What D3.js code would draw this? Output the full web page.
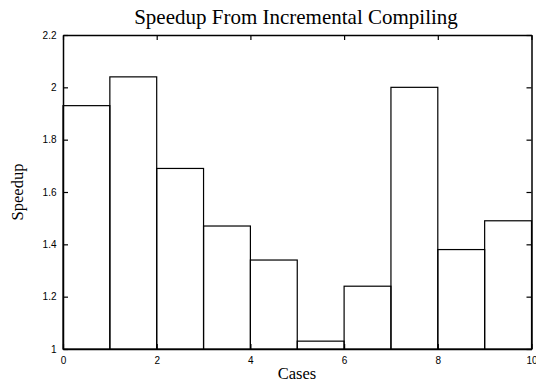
<!DOCTYPE html>
<html>
<head>
<meta charset="utf-8">
<script src="https://cdn.jsdelivr.net/npm/d3@7"></script>
<style>
  body { margin: 0; background: #fff; }
  svg { display: block; }
</style>
</head>
<body>
<div id="graph"></div>
<script>
// one bar per case, case i spans [i, i+1]
var cases = [0, 1, 2, 3, 4, 5, 6, 7, 8, 9];
var speedup = [1.93, 2.04, 1.69, 1.47, 1.34, 1.03, 1.24, 2.00, 1.38, 1.49];
var xTicks = [0, 2, 4, 6, 8, 10];
var yTicks = [1, 1.2, 1.4, 1.6, 1.8, 2, 2.2];

var W = 536, H = 382;
var margin = {top: 35, right: 4.5, bottom: 33, left: 63};
var w = W - margin.left - margin.right,
    h = H - margin.top - margin.bottom;

var svg = d3.select("#graph")
            .append("svg")
            .attr("width", W)
            .attr("height", H);

var g = svg.append("g")
           .attr("transform", "translate(" + margin.left + "," + margin.top + ")");

var x = d3.scaleLinear().domain([0, 10]).range([0, w]);
var y = d3.scaleLinear().domain([1, 2.2]).range([h, 0]);

// bars
g.selectAll("rect.bar")
  .data(cases)
  .enter()
  .append("rect")
    .attr("class", "bar")
    .attr("x", function(d) { return x(d); })
    .attr("y", function(d, i) { return y(speedup[i]); })
    .attr("width", function(d) { return x(d + 1) - x(d); })
    .attr("height", function(d, i) { return h - y(speedup[i]); })
    .attr("fill", "none")
    .attr("stroke", "#000")
    .attr("stroke-width", 1.2);

// axes: ticks pointing inward, on all four sides
var tickFont = "'Liberation Sans', Arial, sans-serif";

var axBottom = g.append("g")
  .attr("transform", "translate(0," + h + ")")
  .call(d3.axisBottom(x).tickValues(xTicks).tickSizeInner(-5).tickSizeOuter(0).tickPadding(8)
        .tickFormat(d3.format("d")));
var axTop = g.append("g")
  .call(d3.axisTop(x).tickValues(xTicks).tickSizeInner(-5).tickSizeOuter(0).tickFormat(""));
var axLeft = g.append("g")
  .call(d3.axisLeft(y).tickValues(yTicks).tickSizeInner(-5).tickSizeOuter(0).tickPadding(6.5)
        .tickFormat(function(d) { return String(+d.toFixed(1)); }));
var axRight = g.append("g")
  .attr("transform", "translate(" + w + ",0)")
  .call(d3.axisRight(y).tickValues(yTicks).tickSizeInner(-5).tickSizeOuter(0).tickFormat(""));

[axBottom, axTop, axLeft, axRight].forEach(function(a) {
  a.select(".domain").attr("stroke", "#000").attr("stroke-width", 1.5);
  a.selectAll(".tick line").attr("stroke", "#000").attr("stroke-width", 1.2);
  a.selectAll("text")
   .attr("fill", "#000")
   .style("font-family", tickFont)
   .style("font-size", "10px");
});

// titles
var serif = "'Liberation Serif', 'Times New Roman', serif";

svg.append("text")
   .attr("x", 296)
   .attr("y", 23.5)
   .attr("text-anchor", "middle")
   .style("font-family", serif)
   .style("font-size", "21px")
   .text("Speedup From Incremental Compiling");

svg.append("text")
   .attr("x", 297)
   .attr("y", 379)
   .attr("text-anchor", "middle")
   .style("font-family", serif)
   .style("font-size", "16.5px")
   .text("Cases");

svg.append("text")
   .attr("transform", "translate(23," + (margin.top + h / 2) + ") rotate(-90)")
   .attr("text-anchor", "middle")
   .style("font-family", serif)
   .style("font-size", "16.5px")
   .text("Speedup");
</script>
</body>
</html>
